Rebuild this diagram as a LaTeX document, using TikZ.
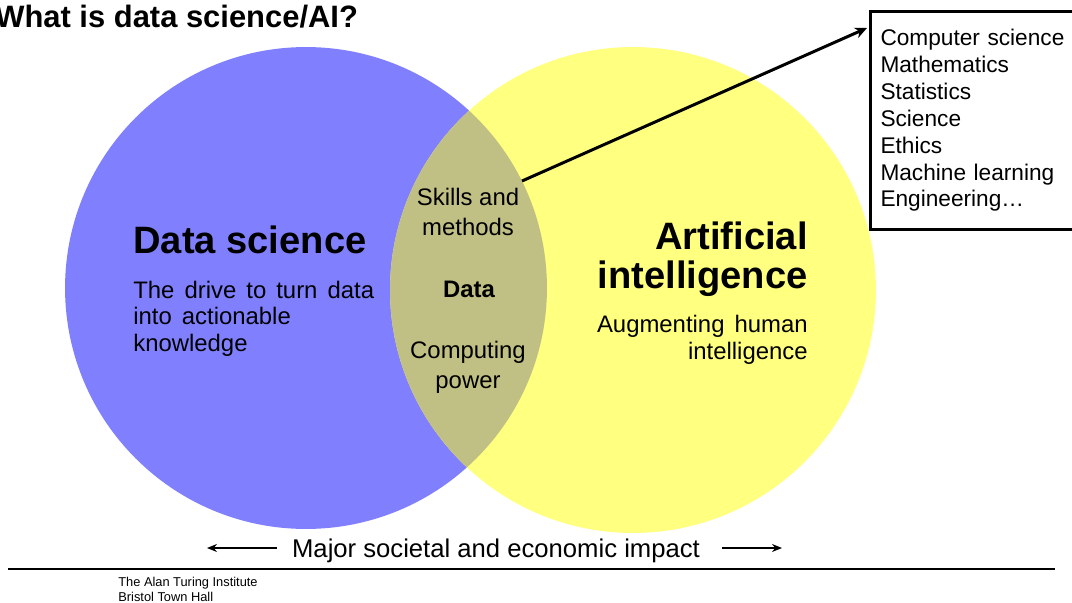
\documentclass[tikz,border=0pt]{standalone}
\usepackage{fontspec}
\setmainfont{Liberation Sans}
\usetikzlibrary{arrows.meta}

\definecolor{dsblue}{RGB}{128,128,255}
\definecolor{aiyellow}{RGB}{255,255,128}
\definecolor{lenskhaki}{RGB}{193,192,132}
\newcommand\widewords{\spaceskip=0.42em\relax}

\begin{document}
\begin{tikzpicture}[x=0.02cm,y=-0.02cm,
        every node/.style={inner sep=0pt,text=black},
        bodytext/.style={font=\fontsize{13.6}{15}\selectfont\widewords},
        headtext/.style={font=\fontsize{21.7}{22.1}\selectfont\bfseries},
        lenstext/.style={font=\fontsize{13.6}{17}\selectfont,align=center}]
        \useasboundingbox (0,0) rectangle (1072,602);
        % the two sets
        \fill[dsblue] (306,288) circle (4.82cm);
        \fill[aiyellow] (633,290) circle (4.86cm);
        \begin{scope}
            \clip (306,288) circle (4.82cm);
            \fill[lenskhaki] (633,290) circle (4.86cm);
        \end{scope}
        % title
        \node[anchor=base west,font=\fontsize{17.6}{20}\selectfont\bfseries] (title) at (-5,27) {What is data science/AI?};
        % left set (base = last line)
        \node[headtext,anchor=base west] (ds) at (133,253) {Data science};
        \node[bodytext,anchor=base west,align=left] (dsdef) at (133,351) {The drive to turn data\\into actionable\\knowledge};
        % right set
        \node[headtext,anchor=base east,align=right] (ai) at (808,288) {Artificial\\intelligence};
        \node[bodytext,anchor=base east,align=right] (aidef) at (808,359) {Augmenting human\\intelligence};
        % overlap
        \node[lenstext,anchor=base] (skills) at (468,235) {Skills and\\methods};
        \node[lenstext,anchor=base,font=\fontsize{13.6}{17}\selectfont\bfseries] (data) at (469,297) {Data};
        \node[lenstext,anchor=base] (computing) at (468,388) {Computing\\power};
        % list of fields
        \node[draw,line width=1.7pt,anchor=north west,minimum height=4.36cm,text width=4.6cm,inner xsep=0.2cm,align=left,font=\fontsize{12.9}{15.3}\selectfont] (fields) at (869,10) {Computer science\\Mathematics\\Statistics\\Science\\Ethics\\Machine learning\\Engineering\ldots};
        \coordinate (armstart) at (522,181);
        \coordinate (armtip) at (867,28);
        \draw[line width=1.7pt,-{Stealth[length=2.4mm,width=2.2mm]}] (armstart) -- (armtip);
        % impact
        \node[anchor=base,font=\fontsize{14.6}{16}\selectfont] (impact) at (496,557) {Major societal and economic impact};
        \coordinate (leftfrom) at (277,548);
        \coordinate (leftto) at (207,548);
        \coordinate (rightfrom) at (722,548);
        \coordinate (rightto) at (782,548);
        \draw[line width=0.8pt,-{Stealth[length=2mm,width=1.6mm]}] (leftfrom) -- (leftto);
        \draw[line width=0.8pt,-{Stealth[length=2mm,width=1.6mm]}] (rightfrom) -- (rightto);
        % footer
        \coordinate (ruleleft) at (8,569);
        \coordinate (ruleright) at (1055,569);
        \draw[line width=0.7pt] (ruleleft) -- (ruleright);
        \node[anchor=base west,align=left,font=\fontsize{7.3}{8.5}\selectfont] (venue) at (118,601) {The Alan Turing Institute\\Bristol Town Hall};
    \end{tikzpicture}
\end{document}
